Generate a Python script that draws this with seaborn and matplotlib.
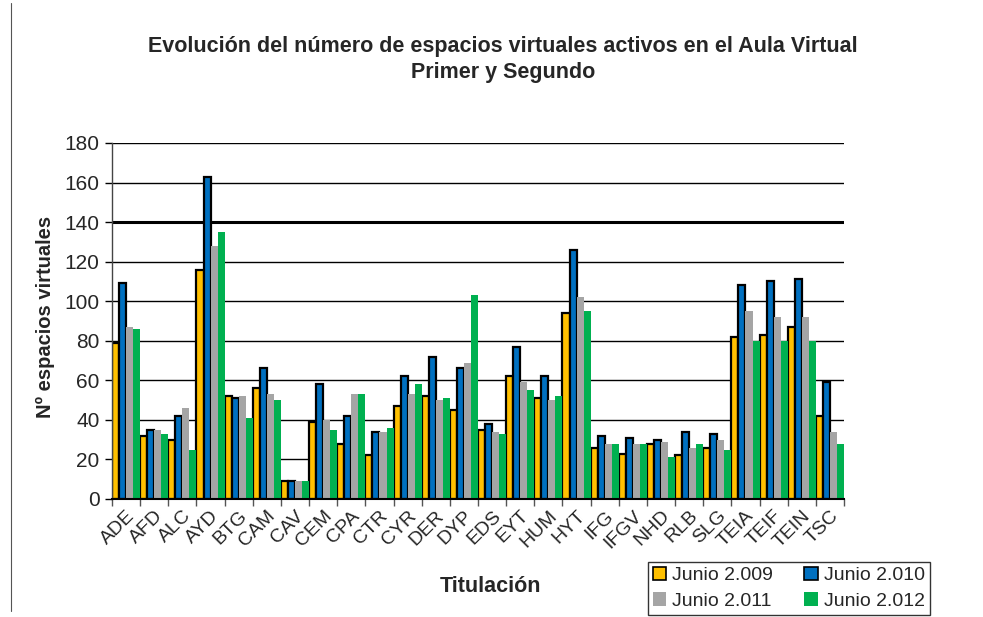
import pandas as pd
import matplotlib.pyplot as plt
import seaborn as sns
from matplotlib.patches import Patch
from matplotlib.lines import Line2D

# Datos
titulaciones = ["ADE", "AFD", "ALC", "AYD", "BTG", "CAM", "CAV", "CEM", "CPA", "CTR",
                "CYR", "DER", "DYP", "EDS", "EYT", "HUM", "HYT", "IFG", "IFGV", "NHD",
                "RLB", "SLG", "TEIA", "TEIF", "TEIN", "TSC"]
junio_2009 = [79, 32, 30, 116, 52, 56, 9, 39, 28, 22, 47, 52, 45, 35, 62, 51, 94, 26, 23, 28,
              22, 26, 82, 83, 87, 42]
junio_2010 = [109, 35, 42, 163, 51, 66, 9, 58, 42, 34, 62, 72, 66, 38, 77, 62, 126, 32, 31, 30,
              34, 33, 108, 110, 111, 59]
junio_2011 = [87, 35, 46, 128, 52, 53, 9, 40, 53, 34, 53, 50, 69, 34, 59, 50, 102, 28, 28, 29,
              26, 30, 95, 92, 92, 34]
junio_2012 = [86, 33, 25, 135, 41, 50, 9, 35, 53, 36, 58, 51, 103, 33, 55, 52, 95, 28, 28, 21,
              28, 25, 80, 80, 80, 28]

series = ["Junio 2.009", "Junio 2.010", "Junio 2.011", "Junio 2.012"]
colores = ["#FFC000", "#0070C0", "#A5A5A5", "#00B050"]

df = pd.DataFrame({"Titulacion": titulaciones,
                   series[0]: junio_2009, series[1]: junio_2010,
                   series[2]: junio_2011, series[3]: junio_2012})
df = df.melt(id_vars="Titulacion", var_name="Serie", value_name="Valor")

sns.set_theme(style="white")
plt.rcParams["font.family"] = ["Liberation Sans", "DejaVu Sans"]

fig = plt.figure(figsize=(9.83, 6.17), dpi=100)
ax = fig.add_axes([112 / 983, 118 / 617, 732 / 983, 356 / 617])

sns.barplot(data=df, x="Titulacion", y="Valor", hue="Serie", hue_order=series,
            palette=colores, saturation=1, width=1.0, gap=0, legend=False, ax=ax)

# bordes negros solo en las dos primeras series
for i, cont in enumerate(ax.containers):
    for bar in cont:
        if i < 2:
            bar.set_edgecolor("black")
            bar.set_linewidth(1.6)
        else:
            bar.set_linewidth(0)

ax.set_ylim(0, 180)
ax.set_xlim(-0.5, len(titulaciones) - 0.5)
ax.set_yticks(range(0, 181, 20))
ax.set_axisbelow(True)
ax.yaxis.grid(True, color="black", linewidth=1)
for gl, v in zip(ax.get_ygridlines(), range(0, 181, 20)):
    if v == 140:
        gl.set_linewidth(2.2)

ax.set_xticks(range(len(titulaciones)))
ax.set_xticklabels(titulaciones, rotation=45, ha="right", rotation_mode="anchor", fontsize=14)
ax.set_xticks([i - 0.5 for i in range(len(titulaciones) + 1)], minor=True)
ax.tick_params(axis="x", which="major", length=0, pad=6)
ax.tick_params(axis="x", which="minor", length=5, width=1, color="#555555", direction="out", bottom=True)
ax.tick_params(axis="y", length=5, width=1, color="black", direction="out", left=True, labelsize=15, pad=4)

ax.set_xlabel("")
ax.set_ylabel("")
for s in ["top", "right"]:
    ax.spines[s].set_visible(False)
ax.spines["left"].set_color("#444444")
ax.spines["left"].set_linewidth(1)
ax.spines["bottom"].set_color("black")
ax.spines["bottom"].set_linewidth(1.5)

fig.text(0.512, 0.903, "Evolución del número de espacios virtuales activos en el Aula Virtual\nPrimer y Segundo",
         ha="center", va="center", fontsize=15.5, fontweight="bold", linespacing=1.3)
fig.text(45 / 983, 0.486, "Nº espacios virtuales", rotation=90, ha="center", va="center",
         fontsize=14.5, fontweight="bold")
fig.text(491 / 983, 0.050, "Titulación", ha="center", va="center", fontsize=15.5, fontweight="bold")

handles = []
for i, c in enumerate(colores):
    if i < 2:
        handles.append(Patch(facecolor=c, edgecolor="black", linewidth=1.2))
    else:
        handles.append(Patch(facecolor=c, edgecolor="none"))
# orden por filas: 2009, 2010 / 2011, 2012
orden = [0, 2, 1, 3]
leg = fig.legend([handles[i] for i in orden], [series[i] for i in orden], ncol=2, loc="upper left",
                 bbox_to_anchor=(648 / 983, 1 - 562 / 617), borderaxespad=0, fontsize=14,
                 frameon=True, fancybox=False, edgecolor="black",
                 handlelength=0.7, handleheight=0.7, handletextpad=0.3,
                 columnspacing=1.6, borderpad=0.25, labelspacing=0.4)
leg.get_frame().set_linewidth(1)

fig.add_artist(Line2D([11 / 983, 11 / 983], [0.01, 0.995], color="#555555", linewidth=0.8))

fig.savefig("out.png", dpi=100, facecolor="white")
